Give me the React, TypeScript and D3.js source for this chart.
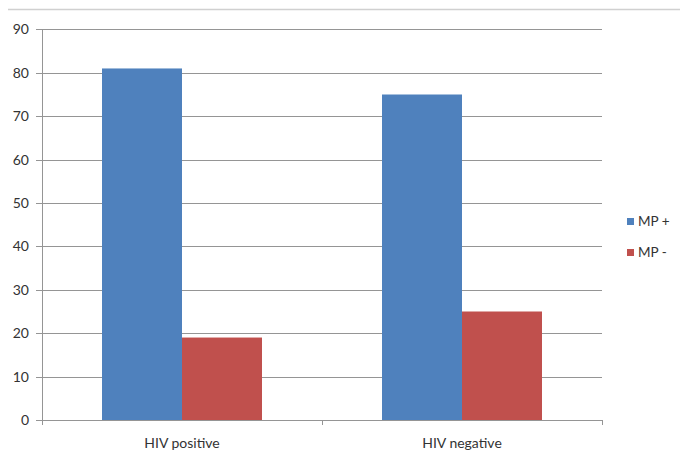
import * as d3 from "d3";

const categories = ["HIV positive", "HIV negative"];
const series = ["MP +", "MP -"];
const mpPlus = [81, 75];
const mpMinus = [19, 25];
const yTicks = [0, 10, 20, 30, 40, 50, 60, 70, 80, 90];
const colors = ["#4F81BD", "#C0504D"];

const W = 680;
const H = 459;
const left = 42;
const right = 602;
const top = 29.4;
const bottom = 420;

export default function App() {
  const values = [mpPlus, mpMinus];
  const x0 = d3.scaleBand<string>().domain(categories).range([left, right]).padding(0);
  const x1 = d3
    .scaleBand<string>()
    .domain(series)
    .range([0, x0.bandwidth()])
    .paddingInner(0)
    .paddingOuter(0.75);
  const y = d3.scaleLinear().domain([0, 90]).range([bottom, top]);
  const font = "Lato, 'Open Sans', sans-serif";

  // tick marks sit on the band boundaries
  const xTickPos = [...categories.map((c) => x0(c)!), right];

  return (
    <div style={{ position: "absolute", left: 0, top: 0 }}>
      <svg width={W} height={H} style={{ display: "block", background: "#fff" }}>
        <line x1={8} x2={W} y1={9.5} y2={9.5} stroke="#d0d0d0" strokeWidth={1.5} />
        {yTicks.map((t) => (
          <g key={t}>
            <line
              x1={left - 6}
              x2={right}
              y1={Math.round(y(t)) + 0.5}
              y2={Math.round(y(t)) + 0.5}
              stroke="#959595"
              strokeWidth={1}
            />
            <text
              x={29}
              y={y(t)}
              dy="0.35em"
              textAnchor="end"
              fontFamily={font}
              fontSize={14}
              fill="#333"
            >
              {t}
            </text>
          </g>
        ))}
        {categories.map((c, i) => (
          <g key={c}>
            {series.map((s, j) => (
              <rect
                key={s}
                x={x0(c)! + x1(s)!}
                y={y(values[j][i])}
                width={x1.bandwidth()}
                height={bottom - y(values[j][i])}
                fill={colors[j]}
              />
            ))}
            <text
              x={x0(c)! + x0.bandwidth() / 2}
              y={443}
              dy="0.35em"
              textAnchor="middle"
              fontFamily={font}
              fontSize={14}
              fill="#333"
            >
              {c}
            </text>
          </g>
        ))}
        <line x1={left + 0.5} x2={left + 0.5} y1={top} y2={bottom} stroke="#959595" />
        <line x1={left} x2={right} y1={bottom + 0.5} y2={bottom + 0.5} stroke="#959595" />
        {xTickPos.map((p, i) => (
          <line
            key={i}
            x1={Math.round(p) + 0.5}
            x2={Math.round(p) + 0.5}
            y1={bottom}
            y2={bottom + 5}
            stroke="#959595"
          />
        ))}
        {series.map((s, j) => (
          <g key={s} transform={`translate(627, ${218 + j * 31})`}>
            <rect width={7} height={7} fill={colors[j]} />
            <text x={11} y={3.5} dy="0.35em" fontFamily={font} fontSize={13.5} fill="#333">
              {s}
            </text>
          </g>
        ))}
      </svg>
    </div>
  );
}
